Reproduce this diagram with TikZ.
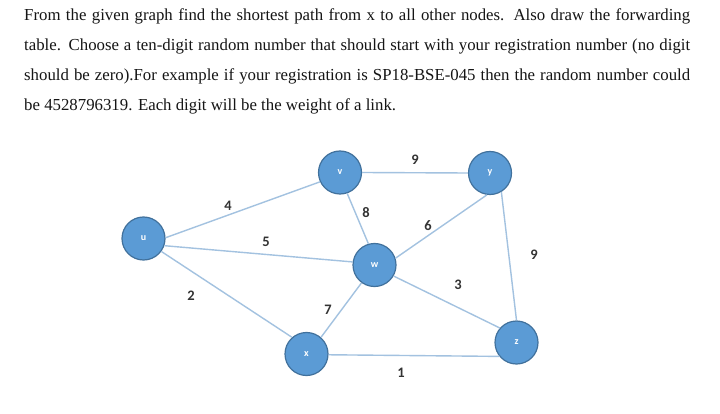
\documentclass[tikz,border=0pt]{standalone}
\usepackage{fontspec}
\setmainfont{Liberation Serif}
\newfontfamily\carl{Carlito}
\definecolor{nodefill}{HTML}{5B9BD5}
\definecolor{nodeedge}{HTML}{41719C}
\definecolor{linkcol}{HTML}{A3C2E0}
\definecolor{wcol}{HTML}{333333}
\definecolor{txtcol}{HTML}{151515}
\begin{document}
\begin{tikzpicture}[x=1pt,y=-1pt,
  vert/.style={circle,fill=nodefill,draw=nodeedge,line width=1.2pt,minimum size=43pt,inner sep=0pt,text=white,font=\carl\bfseries\fontsize{10}{11}\selectfont},
  link/.style={draw=linkcol,line width=1.4pt},
  wt/.style={font=\carl\bfseries\fontsize{14.5}{16}\selectfont,text=wcol,inner sep=0pt}]
\useasboundingbox (0,0) rectangle (720,414);
\fill[white] (0,0) rectangle (720,414);
\node[anchor=north west,inner sep=0pt,text width=666pt,align=justify,text=txtcol,font=\fontsize{16.8}{30}\selectfont] (txt) at (24,8.5) {From the given graph find the shortest path from x to all other nodes. Also draw the forwarding\linebreak table. Choose a ten-digit random number that should start with your registration number (no digit\linebreak should be zero).For example if your registration is SP18-BSE-045 then the random number could\linebreak be 4528796319. Each digit will be the weight of a link.};
\node[vert] (u) at (143.5,238.5) {u};
\node[vert] (v) at (340,172.5) {v};
\node[vert] (y) at (490,173) {y};
\node[vert] (w) at (374.5,265) {w};
\node[vert] (x) at (306.5,354) {x};
\node[vert] (z) at (516.5,342.5) {z};
\draw[link] (u.2) -- (v.205);
\draw[link] (u.-19) -- (w.172);
\draw[link] (u.-36) -- (x.131);
\draw[link] (v.0) -- (y.180);
\draw[link] (v.-71) -- (w.106);
\draw[link] (w.18) -- (y.262);
\draw[link] (x.49) -- (w.234);
\draw[link] (w.-30) -- (z.139);
\draw[link] (y.-59) -- (z.90);
\draw[link] (x.-2) -- (z.219);
\node[wt] (l1) at (228,206) {4};
\node[wt] (l2) at (266,242) {5};
\node[wt] (l3) at (415,160) {9};
\node[wt] (l4) at (366,213) {8};
\node[wt] (l5) at (428,226) {6};
\node[wt] (l6) at (534,255) {9};
\node[wt] (l7) at (458,285) {3};
\node[wt] (l8) at (191,296) {2};
\node[wt] (l9) at (328,310) {7};
\node[wt] (l10) at (401,373) {1};
\end{tikzpicture}
\end{document}
